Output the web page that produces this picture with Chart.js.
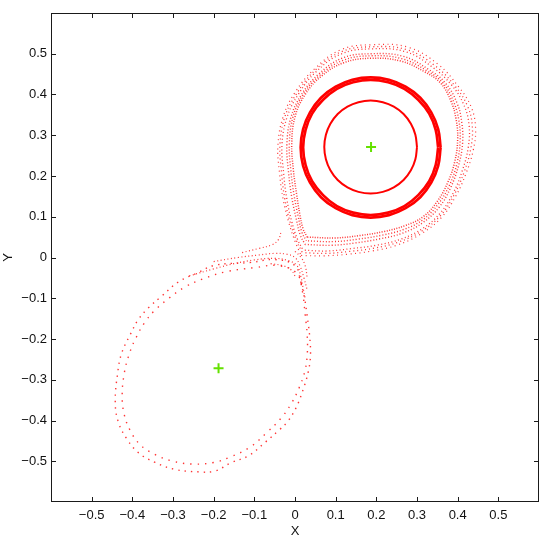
<!DOCTYPE html>
<html>
<head>
<meta charset="utf-8">
<script src="https://cdn.jsdelivr.net/npm/chart.js@4"></script>
<style>
  html, body { margin: 0; padding: 0; background: #fff; }
  #wrap { width: 546px; height: 539px; }
</style>
</head>
<body>
<div id="wrap"><canvas id="myChart" width="546" height="539"></canvas></div>
<script>
// tick values on both axes
const xTicks = [-0.5, -0.4, -0.3, -0.2, -0.1, 0, 0.1, 0.2, 0.3, 0.4, 0.5];
const yTicks = [-0.5, -0.4, -0.3, -0.2, -0.1, 0, 0.1, 0.2, 0.3, 0.4, 0.5];

// elliptic fixed points (green crosses)
const centers = [[0.187, 0.271], [-0.188, -0.272]];

// innermost closed orbit
const innerOrbit = [[0.300,0.271],[0.296,0.301],[0.285,0.328],[0.267,0.352],[0.243,0.370],[0.216,0.381],
  [0.186,0.385],[0.156,0.381],[0.129,0.370],[0.105,0.352],[0.087,0.328],[0.076,0.301],
  [0.072,0.271],[0.076,0.241],[0.087,0.214],[0.105,0.190],[0.129,0.172],[0.156,0.161],
  [0.186,0.157],[0.216,0.161],[0.243,0.172],[0.267,0.190],[0.285,0.214],[0.296,0.241],[0.300,0.271]];

// second orbit (thick ring), two edges
const ringA = [[0.352,0.270],[0.346,0.313],[0.330,0.353],[0.303,0.387],[0.269,0.414],[0.229,0.430],
  [0.186,0.436],[0.143,0.430],[0.103,0.414],[0.069,0.387],[0.042,0.353],[0.026,0.313],
  [0.020,0.270],[0.026,0.227],[0.042,0.187],[0.069,0.153],[0.103,0.126],[0.143,0.110],
  [0.186,0.104],[0.229,0.110],[0.269,0.126],[0.303,0.153],[0.330,0.187],[0.346,0.227],[0.352,0.270]];
const ringB = [[0.358,0.270],[0.352,0.315],[0.335,0.356],[0.308,0.392],[0.272,0.419],[0.231,0.436],
  [0.186,0.442],[0.141,0.436],[0.100,0.419],[0.064,0.392],[0.037,0.356],[0.020,0.315],
  [0.014,0.270],[0.020,0.225],[0.037,0.184],[0.064,0.148],[0.100,0.121],[0.141,0.104],
  [0.186,0.098],[0.231,0.104],[0.272,0.121],[0.308,0.148],[0.335,0.184],[0.352,0.225],[0.358,0.270]];

// chaotic band around the upper island, outer to inner
const band1 = [[0.015,0.005],[0.07,0.004],[0.13,0.008],[0.19,0.016],[0.25,0.03],[0.31,0.058],[0.36,0.098],
  [0.395,0.15],[0.42,0.205],[0.438,0.262],[0.444,0.318],[0.433,0.37],[0.403,0.418],[0.352,0.474],
  [0.278,0.516],[0.187,0.522],[0.113,0.510],[0.048,0.463],[0.0,0.405],[-0.029,0.346],[-0.042,0.275],
  [-0.038,0.207],[-0.029,0.142],[-0.015,0.085],[0.0,0.04],[0.015,0.005]];
const band2 = [[0.018,0.012],[0.075,0.01],[0.135,0.015],[0.195,0.023],[0.255,0.038],[0.312,0.065],[0.359,0.104],
  [0.392,0.155],[0.416,0.21],[0.432,0.266],[0.436,0.322],[0.424,0.372],[0.394,0.42],[0.345,0.47],
  [0.275,0.51],[0.187,0.517],[0.114,0.505],[0.05,0.46],[0.004,0.402],[-0.025,0.345],[-0.037,0.276],
  [-0.033,0.208],[-0.025,0.143],[-0.012,0.087],[0.003,0.043],[0.018,0.012]];
const band3 = [[0.02,0.018],[0.08,0.016],[0.14,0.022],[0.2,0.03],[0.26,0.045],[0.315,0.072],[0.358,0.11],
  [0.39,0.16],[0.412,0.215],[0.426,0.27],[0.428,0.325],[0.415,0.375],[0.386,0.422],[0.338,0.467],
  [0.272,0.505],[0.187,0.512],[0.115,0.5],[0.052,0.456],[0.008,0.4],[-0.02,0.343],[-0.032,0.276],
  [-0.028,0.208],[-0.02,0.143],[-0.008,0.088],[0.006,0.045],[0.02,0.018]];
const band4 = [[0.025,0.032],[0.09,0.03],[0.15,0.036],[0.21,0.046],[0.265,0.06],[0.315,0.086],[0.355,0.124],
  [0.383,0.172],[0.402,0.225],[0.412,0.28],[0.41,0.332],[0.398,0.38],[0.37,0.428],[0.328,0.462],
  [0.265,0.494],[0.187,0.5],[0.118,0.49],[0.058,0.45],[0.016,0.4],[-0.01,0.344],[-0.02,0.277],
  [-0.016,0.21],[-0.008,0.148],[0.003,0.095],[0.013,0.055],[0.025,0.032]];
const band5 = [[0.028,0.041],[0.095,0.039],[0.155,0.045],[0.215,0.055],[0.268,0.069],[0.315,0.093],[0.352,0.131],
  [0.38,0.178],[0.398,0.23],[0.406,0.285],[0.403,0.336],[0.39,0.382],[0.364,0.428],[0.323,0.459],
  [0.262,0.488],[0.187,0.495],[0.119,0.484],[0.062,0.448],[0.02,0.4],[-0.005,0.345],[-0.014,0.278],
  [-0.01,0.212],[-0.002,0.151],[0.008,0.1],[0.017,0.062],[0.028,0.041]];
const band6 = [[0.03,0.05],[0.1,0.048],[0.16,0.054],[0.22,0.064],[0.27,0.078],[0.315,0.1],[0.35,0.138],
  [0.376,0.185],[0.393,0.236],[0.4,0.29],[0.396,0.34],[0.383,0.385],[0.358,0.428],[0.318,0.456],
  [0.26,0.482],[0.187,0.489],[0.12,0.478],[0.065,0.445],[0.025,0.4],[0.0,0.345],[-0.008,0.28],
  [-0.004,0.215],[0.004,0.155],[0.012,0.105],[0.02,0.07],[0.03,0.05]];

// strands near the hyperbolic point
const strand1 = [[-0.26,-0.045],[-0.2,-0.028],[-0.15,-0.015],[-0.1,-0.006],[-0.05,-0.002],[-0.015,-0.008],
  [0.005,-0.02],[0.014,-0.045],[0.02,-0.075],[0.025,-0.1]];
const strand2 = [[-0.2,-0.01],[-0.14,0.0],[-0.09,0.006],[-0.05,0.01],[-0.02,0.008],[0.0,0.0],
  [0.012,-0.02],[0.022,-0.05],[0.03,-0.08]];
const strand3 = [[-0.13,0.012],[-0.09,0.022],[-0.055,0.032],[-0.04,0.045],[-0.035,0.06]];
const strand4 = [[0.0,0.015],[0.015,0.0],[0.025,-0.02],[0.03,-0.05]];
const strand5 = [[-0.06,-0.015],[-0.03,-0.02],[-0.01,-0.03],[0.0,-0.045]];

// sparse orbit around the lower island
const lower1 = [[0.015,-0.062],[0.024,-0.103],[0.030,-0.144],[0.036,-0.193],[0.038,-0.242],[0.032,-0.283],
  [0.02,-0.324],[0.003,-0.368],[-0.017,-0.401],[-0.0375,-0.422],[-0.074,-0.454],[-0.115,-0.487],
  [-0.156,-0.503],[-0.197,-0.524],[-0.238,-0.526],[-0.295,-0.52],[-0.344,-0.503],[-0.385,-0.479],
  [-0.413,-0.446],[-0.434,-0.405],[-0.442,-0.356],[-0.436,-0.283],[-0.426,-0.234],[-0.405,-0.189],
  [-0.385,-0.152],[-0.36,-0.123],[-0.328,-0.095],[-0.287,-0.06],[-0.238,-0.037],[-0.197,-0.019],
  [-0.108,-0.012],[-0.05,-0.005],[0.0,-0.02],[0.015,-0.062]];
const lower2 = [[0.02,-0.09],[0.025,-0.14],[0.03,-0.19],[0.03,-0.24],[0.024,-0.28],[0.01,-0.32],
  [-0.01,-0.36],[-0.035,-0.395],[-0.07,-0.43],[-0.11,-0.465],[-0.16,-0.49],[-0.2,-0.503],
  [-0.25,-0.507],[-0.3,-0.5],[-0.345,-0.483],[-0.38,-0.46],[-0.405,-0.425],[-0.42,-0.385],
  [-0.425,-0.34],[-0.42,-0.285],[-0.407,-0.235],[-0.39,-0.195],[-0.37,-0.16],[-0.345,-0.13],
  [-0.31,-0.1],[-0.27,-0.072],[-0.225,-0.052],[-0.17,-0.035],[-0.1,-0.025],[-0.04,-0.02],
  [0.005,-0.04],[0.02,-0.09]];

const FONT = '"Liberation Sans", Arial, Helvetica, sans-serif';

function pts(arr) {
    return arr.map(p => ({ x: p[0], y: p[1] }));
}

function fmt(v) {
    const r = Math.round(v * 10) / 10;
    if (r === 0) return '0';
    return r < 0 ? '\u2212' + Math.abs(r) : String(r);
}

function orbit(arr, width, dash, color, offset) {
    return {
        data: pts(arr),
        showLine: true,
        borderColor: color,
        borderWidth: width,
        borderDash: dash,
        borderDashOffset: offset || 0,
        pointRadius: 0,
        tension: 0.4,
        fill: false
    };
}

const solidRed = 'rgb(255,0,0)';
const dotRed = 'rgba(255,0,0,0.8)';
const datasets = [
    {
        data: pts(centers),
        showLine: false,
        pointStyle: 'cross',
        pointRadius: 5,
        borderWidth: 2,
        borderColor: 'rgb(100,225,0)',
        backgroundColor: 'rgb(100,225,0)'
    },
    orbit(innerOrbit, 2, [], solidRed),
    orbit(ringA, 2.7, [], solidRed),
    orbit(ringB, 2.7, [], solidRed),
    orbit(band1, 1.2, [1, 3.5], dotRed, 0),
    orbit(band2, 1.3, [1, 3], dotRed, 1),
    orbit(band3, 1.3, [1, 2.5], dotRed, 2),
    orbit(band4, 1.4, [1, 2], dotRed, 0.5),
    orbit(band5, 1.4, [1, 2], dotRed, 1.5),
    orbit(band6, 1.5, [1, 1.5], dotRed, 0),
    orbit(strand1, 1.2, [1, 2.5], dotRed),
    orbit(strand2, 1.2, [1, 2.5], dotRed),
    orbit(strand3, 1.2, [1, 2.5], dotRed),
    orbit(strand4, 1.2, [1, 2.5], dotRed),
    orbit(strand5, 1.2, [1, 2.5], dotRed),
    orbit(lower1, 1.4, [1.4, 5], dotRed),
    orbit(lower2, 1.4, [1.4, 6], dotRed, 2)
];

// box around the plot with inward tick marks (matlab style)
const framePlugin = {
    id: 'frame',
    afterDatasetsDraw(chart) {
        const ctx = chart.ctx;
        const a = chart.chartArea;
        const xs = chart.scales.x, ys = chart.scales.y;
        ctx.save();
        ctx.strokeStyle = '#1a1a1a';
        ctx.lineWidth = 1;
        ctx.strokeRect(a.left + 0.5, a.top + 0.5, a.right - a.left - 1, a.bottom - a.top - 1);
        ctx.beginPath();
        xTicks.forEach(v => {
            const px = Math.round(xs.getPixelForValue(v)) + 0.5;
            ctx.moveTo(px, a.bottom); ctx.lineTo(px, a.bottom - 5);
            ctx.moveTo(px, a.top); ctx.lineTo(px, a.top + 5);
        });
        yTicks.forEach(v => {
            const py = Math.round(ys.getPixelForValue(v)) + 0.5;
            ctx.moveTo(a.left, py); ctx.lineTo(a.left + 5, py);
            ctx.moveTo(a.right, py); ctx.lineTo(a.right - 5, py);
        });
        ctx.stroke();
        ctx.restore();
    }
};

const ctx = document.getElementById('myChart').getContext('2d');
const myChart = new Chart(ctx, {
    type: 'scatter',
    data: { datasets: datasets },
    options: {
        responsive: false,
        animation: false,
        layout: { padding: { top: 13, right: 5, left: 0, bottom: 0 } },
        plugins: { legend: { display: false }, tooltip: { enabled: false } },
        scales: {
            x: {
                type: 'linear',
                min: -0.6,
                max: 0.6,
                afterBuildTicks: s => { s.ticks = xTicks.map(v => ({ value: v })); },
                afterFit: s => { s.height = 37; },
                grid: { display: false, drawTicks: false },
                border: { display: false },
                ticks: {
                    padding: 6,
                    maxRotation: 0,
                    autoSkip: false,
                    color: '#111',
                    font: { family: FONT, size: 13 },
                    callback: v => fmt(v)
                },
                title: {
                    display: true,
                    text: 'X',
                    color: '#111',
                    padding: { top: 0, bottom: 0 },
                    font: { family: FONT, size: 13 }
                }
            },
            y: {
                type: 'linear',
                min: -0.6,
                max: 0.6,
                afterBuildTicks: s => { s.ticks = yTicks.map(v => ({ value: v })); },
                afterFit: s => { s.width = 51; },
                grid: { display: false, drawTicks: false },
                border: { display: false },
                ticks: {
                    padding: 4,
                    autoSkip: false,
                    color: '#111',
                    font: { family: FONT, size: 13 },
                    callback: v => fmt(v)
                },
                title: {
                    display: true,
                    text: 'Y',
                    color: '#111',
                    padding: { top: 1, bottom: 0 },
                    font: { family: FONT, size: 13 }
                }
            }
        }
    },
    plugins: [framePlugin]
});
</script>
</body>
</html>
